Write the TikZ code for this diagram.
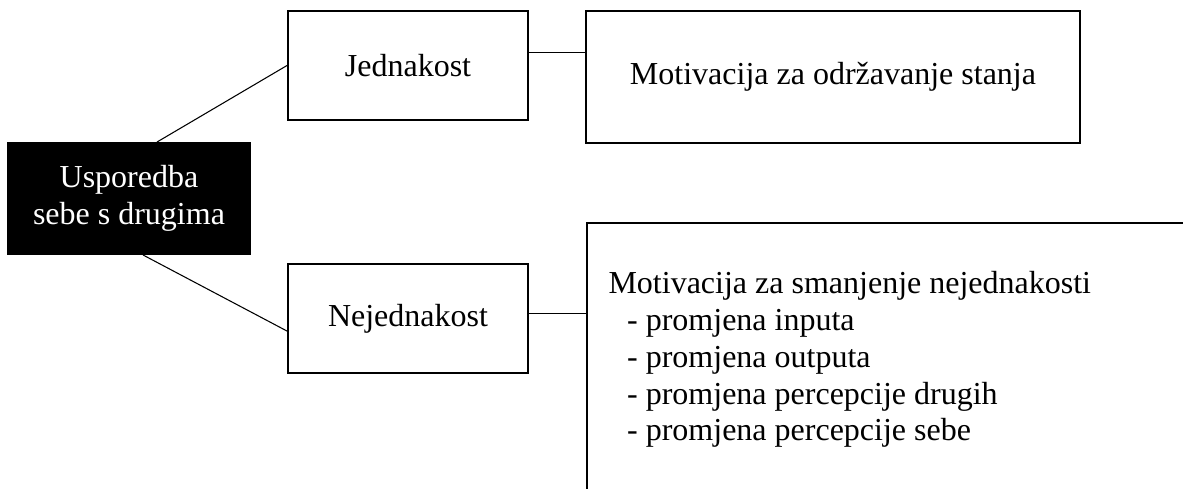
\documentclass[tikz,border=0pt]{standalone}
\usepackage{fontspec}
\setmainfont{Liberation Serif}
\usepackage{tikz}

\begin{document}
\begin{tikzpicture}[x=0.375pt,y=-0.375pt,
  box/.style={draw, line width=0.75pt, minimum width=90pt, minimum height=40.9pt, inner sep=0pt, font=\fontsize{12}{13.8}\selectfont},
  link/.style={line width=0.4pt}]
\useasboundingbox (0,0) rectangle (1183,489);
\clip (0,0) rectangle (1183,489);
\node [box, fill=black, text=white, align=center, minimum width=90.75pt, minimum height=41.6pt] (root) at (129,198.5) {Usporedba\\sebe s drugima};
\node [box] (jed) at (408,65.5) {Jednakost};
\node [box] (nej) at (408,318.5) {Nejednakost};
\node [box, minimum width=185.25pt, minimum height=49.5pt] (odr) at (833,77) {Motivacija za održavanje stanja};
\node [box, anchor=north west, minimum width=240pt, minimum height=110pt] (sma) at (586,222) {};
\node [anchor=north west, align=left, inner sep=0pt, font=\fontsize{12}{13.8}\selectfont] (smatxt) at (608,271) {Motivacija za smanjenje nejednakosti\\
\hspace*{7pt}- promjena inputa\\
\hspace*{7pt}- promjena outputa\\
\hspace*{7pt}- promjena percepcije drugih\\
\hspace*{7pt}- promjena percepcije sebe};
\draw [link] ([xshift=10.5pt]root.north) -- (jed.west);
\draw [link] ([xshift=5.25pt]root.south) -- ([yshift=-4.7pt]nej.west);
\coordinate (jedout) at ([yshift=5pt]jed.east);
\coordinate (nejout) at ([yshift=2pt]nej.east);
\draw [link] (jedout) -- (jedout -| odr.west);
\draw [link] (nejout) -- (nejout -| sma.west);
\end{tikzpicture}
\end{document}
